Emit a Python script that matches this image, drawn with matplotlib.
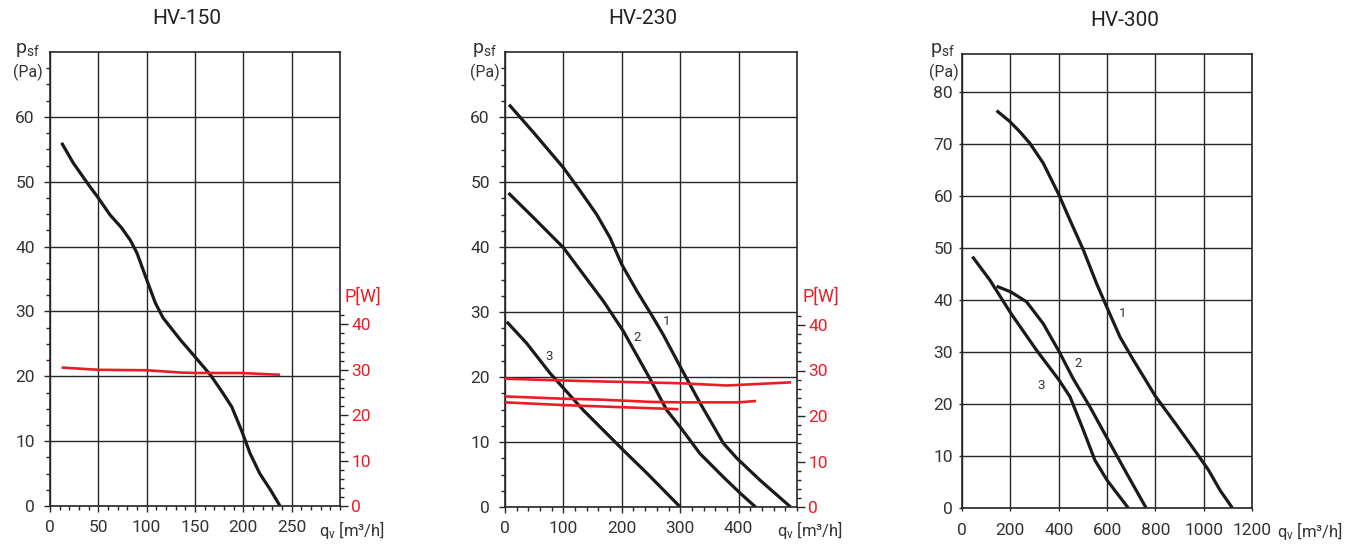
import numpy as np
import matplotlib
matplotlib.use('Agg')
import matplotlib.pyplot as plt
from matplotlib.ticker import MultipleLocator, FixedLocator

plt.rcParams['font.family'] = ['Roboto', 'DejaVu Sans']

# Constants
FIG_W = 1364
FIG_H = 547
INK = '#262626'
CURVE = '#1a1a1a'
TXT = '#333333'
RED = '#ec1c24'

# HV-150 data
hv150_q = [12, 24, 41, 50, 62, 74, 83, 90, 100, 109, 117, 135, 150, 166, 178, 188,
           198, 207, 217, 228, 238]
hv150_p = [56.0, 52.9, 49.3, 47.5, 44.9, 42.9, 41.0, 39.0, 34.9, 31.3, 29.0, 25.6,
           23.0, 20.2, 17.6, 15.3, 11.7, 8.1, 5.0, 2.5, 0.0]
hv150_pw_q = [12, 50, 100, 135, 150, 198, 238]
hv150_pw = [30.5, 30.0, 29.9, 29.4, 29.3, 29.3, 28.9]

# HV-230 data (curves 1, 2, 3)
hv230_q1 = [7, 49, 100, 129, 157, 180, 200, 226, 254, 271, 300, 334, 374, 397, 437, 489]
hv230_p1 = [61.9, 57.6, 52.2, 48.6, 45.0, 41.4, 37.3, 33.2, 29.1, 26.5, 21.6, 16.0,
            9.8, 7.5, 4.1, 0.0]
hv230_q2 = [6, 49, 100, 134, 169, 203, 249, 277, 300, 334, 374, 403, 429]
hv230_p2 = [48.3, 44.5, 39.9, 35.8, 31.6, 27.0, 19.6, 14.9, 12.3, 8.2, 4.6, 2.1, 0.0]
hv230_q3 = [3, 37, 77, 100, 134, 163, 203, 243, 277, 300]
hv230_p3 = [28.5, 25.2, 20.6, 18.3, 14.9, 12.3, 8.7, 5.2, 2.1, 0.0]
hv230_pw_q1 = [0, 100, 163, 300, 380, 490]
hv230_pw1 = [28.2, 27.8, 27.6, 27.2, 26.7, 27.4]
hv230_pw_q2 = [0, 100, 163, 250, 300, 400, 430]
hv230_pw2 = [24.3, 23.8, 23.6, 23.1, 23.0, 23.0, 23.3]
hv230_pw_q3 = [0, 100, 163, 297]
hv230_pw3 = [23.0, 22.4, 22.1, 21.5]
hv230_label_q = [276, 227, 75]
hv230_label_p = [28.6, 26.1, 23.1]

# HV-300 data (curves 1, 2, 3)
hv300_q1 = [143, 198, 240, 281, 336, 401, 447, 502, 557, 599, 654, 709, 802, 889, 972,
            1020, 1068, 1119]
hv300_p1 = [76.5, 74.4, 72.4, 70.2, 66.4, 60.3, 55.4, 49.7, 43.2, 38.7, 32.9, 28.5,
            21.4, 15.9, 10.5, 7.3, 3.4, 0.0]
hv300_q2 = [143, 202, 267, 336, 402, 460, 529, 601, 682, 762]
hv300_p2 = [42.7, 41.6, 39.7, 35.5, 30.1, 24.9, 19.5, 13.4, 6.6, 0.0]
hv300_q3 = [43, 115, 202, 308, 402, 447, 502, 550, 601, 688]
hv300_p3 = [48.4, 43.9, 37.5, 30.4, 24.6, 21.4, 15.0, 9.2, 5.3, 0.0]
hv300_label_q = [665, 481, 329]
hv300_label_p = [37.5, 27.8, 23.6]

curve_labels = ['1', '2', '3']


def px_box(left, top, right, bottom):
    """Axes rectangle from pixel edges"""
    return [left / FIG_W, 1 - bottom / FIG_H, (right - left) / FIG_W,
            (bottom - top) / FIG_H]


def fig_text(fig, x, y, s, **kw):
    """Place text at a pixel position"""
    fig.text(x / FIG_W, 1 - y / FIG_H, s, **kw)


def setup_axes(ax, xmax, ymax, xticks, xminor, yticks, yminor, ytop_tick,
               tick_len, lpad, bpad):
    ax.set_xlim(0, xmax)
    ax.set_ylim(0, ymax)
    ax.xaxis.set_major_locator(FixedLocator(xticks))
    ax.yaxis.set_major_locator(FixedLocator(yticks))
    if xminor:
        ax.xaxis.set_minor_locator(MultipleLocator(xminor))
    if yminor:
        ax.yaxis.set_minor_locator(FixedLocator(np.arange(0, ytop_tick + 0.1, yminor)))
    ax.grid(True, which='major', color=INK, lw=1.0)
    for s in ax.spines.values():
        s.set_color(INK)
        s.set_linewidth(1.2)
    ax.tick_params(which='major', direction='out', length=tick_len, width=1.0,
                   color=INK, labelcolor=TXT, labelsize=12.5)
    ax.tick_params(which='minor', direction='out', length=3, width=1.0, color=INK)
    ax.tick_params(axis='y', which='major', pad=lpad)
    ax.tick_params(axis='x', which='major', pad=bpad)
    ax.set_axisbelow(True)


def power_axis(ax):
    ax2 = ax.twinx()
    ax2.set_ylim(0, 100)
    ax2.yaxis.set_major_locator(FixedLocator([0, 10, 20, 30, 40]))
    ax2.yaxis.set_minor_locator(FixedLocator(np.arange(0, 43, 2)))
    ax2.tick_params(which='major', direction='out', length=5.5, width=1.0,
                    color=INK, labelcolor=RED, labelsize=12.5, pad=2.5)
    ax2.tick_params(which='minor', direction='out', length=3, width=1.0, color=INK)
    for s in ax2.spines.values():
        s.set_visible(False)
    return ax2


def draw(ax, q, p, color=CURVE, lw=2.3):
    ax.plot(q, p, color=color, lw=lw, solid_joinstyle='round', solid_capstyle='butt')


def side_labels(fig, x_p, x_pa, x_q, y_q):
    fig_text(fig, x_p, 50, r'$\mathregular{p_{sf}}$', ha='right', va='center',
             fontsize=14, color=TXT)
    fig_text(fig, x_pa, 72, '(Pa)', ha='right', va='center', fontsize=11.5, color=TXT)
    fig_text(fig, x_q, y_q, r'$\mathregular{q_v}$ [m³/h]', ha='left', va='center',
             fontsize=12, color=TXT)


fig = plt.figure(figsize=(FIG_W / 100, FIG_H / 100), dpi=100)

# HV-150
ax = fig.add_axes(px_box(50, 52, 340, 506))
setup_axes(ax, 300, 70, [0, 50, 100, 150, 200, 250], 10, range(0, 61, 10), 2.5, 67.5,
           4, 7, 6)
draw(ax, hv150_q, hv150_p)
ax2 = power_axis(ax)
draw(ax2, hv150_pw_q, hv150_pw, color=RED, lw=1.9)
fig_text(fig, 187, 19, 'HV-150', ha='center', va='center', fontsize=15, color='#222222')
side_labels(fig, 40, 43, 319, 530)
fig_text(fig, 344, 297, 'P[W]', ha='left', va='center', fontsize=13, color=RED)

# HV-230
ax = fig.add_axes(px_box(505, 52, 797, 507))
setup_axes(ax, 500, 70, [0, 100, 200, 300, 400], 20, range(0, 61, 10), 2.5, 67.5,
           4, 7, 6)
for q, p in [(hv230_q1, hv230_p1), (hv230_q2, hv230_p2), (hv230_q3, hv230_p3)]:
    draw(ax, q, p)
for lq, lp, lab in zip(hv230_label_q, hv230_label_p, curve_labels):
    ax.text(lq, lp, lab, ha='center', va='center', fontsize=9.5, color=TXT)
ax2 = power_axis(ax)
for q, w in [(hv230_pw_q1, hv230_pw1), (hv230_pw_q2, hv230_pw2), (hv230_pw_q3, hv230_pw3)]:
    draw(ax2, q, w, color=RED, lw=1.9)
fig_text(fig, 643, 19, 'HV-230', ha='center', va='center', fontsize=15, color='#222222')
side_labels(fig, 497, 500, 777, 530)
fig_text(fig, 802, 297, 'P[W]', ha='left', va='center', fontsize=13, color=RED)

# HV-300
ax = fig.add_axes(px_box(962, 54, 1252, 508))
setup_axes(ax, 1200, 87.4, range(0, 1201, 200), None, range(0, 81, 10), None, 0,
           2.5, 4, 8)
for q, p in [(hv300_q1, hv300_p1), (hv300_q2, hv300_p2), (hv300_q3, hv300_p3)]:
    draw(ax, q, p)
for lq, lp, lab in zip(hv300_label_q, hv300_label_p, curve_labels):
    ax.text(lq, lp, lab, ha='center', va='center', fontsize=9.5, color=TXT)
fig_text(fig, 1125, 20, 'HV-300', ha='center', va='center', fontsize=15, color='#222222')
side_labels(fig, 955, 959, 1277, 531)

fig.savefig('out.png', dpi=100)
